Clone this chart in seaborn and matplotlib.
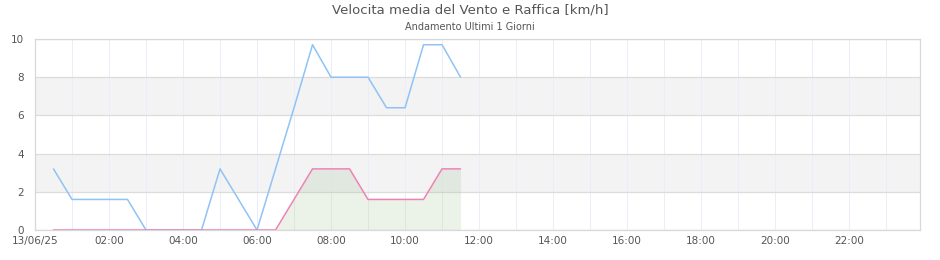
import matplotlib
matplotlib.use("Agg")
import matplotlib.pyplot as plt
import matplotlib.dates as mdates
import matplotlib.ticker as mticker
import seaborn as sns
import pandas as pd

title = "Velocita media del Vento e Raffica [km/h]"
subtitle = "Andamento Ultimi 1 Giorni"
date = "2025-06-13"
times = ["00:30", "01:00", "01:30", "02:00", "02:30", "03:00", "03:30", "04:00",
         "04:30", "05:00", "05:30", "06:00", "06:30", "07:00", "07:30", "08:00",
         "08:30", "09:00", "09:30", "10:00", "10:30", "11:00", "11:30"]
raffica = [3.2, 1.6, 1.6, 1.6, 1.6, 0, 0, 0, 0, 3.2, 1.6, 0, 3.2, 6.4, 9.7,
           8.0, 8.0, 8.0, 6.4, 6.4, 9.7, 9.7, 8.0]
media = [0, 0, 0, 0, 0, 0, 0, 0, 0, 0, 0, 0, 0, 1.6, 3.2, 3.2, 3.2, 1.6, 1.6,
         1.6, 1.6, 3.2, 3.2]
y_ticks = [0, 2, 4, 6, 8, 10]

sns.set_theme(style="white")
plt.rcParams['font.family'] = ['DejaVu Sans']

df = pd.DataFrame({
    "time": pd.to_datetime([f"{date} {t}" for t in times]),
    "raffica": raffica,
    "media": media,
})

fig = plt.figure(figsize=(9.4, 2.6), dpi=100)
ax = fig.add_axes([35 / 940, 30 / 260, 885 / 940, 191 / 260])

start = pd.Timestamp(f"{date} 00:00")
end = start + pd.Timedelta(hours=24)

# alternating bands
for lo in (2, 6):
    ax.axhspan(lo, lo + 2, color="#f3f3f3", zorder=0, lw=0)

ax.fill_between(df["time"], df["media"], 0, color="#9cc090", alpha=0.2, lw=0, zorder=1)
sns.lineplot(data=df, x="time", y="raffica", ax=ax, color="#90c3f5", lw=1.1, zorder=3)
sns.lineplot(data=df, x="time", y="media", ax=ax, color="#ee82b6", lw=1.1, zorder=4)

ax.set_xlim(start, end - pd.Timedelta(minutes=5))
ax.set_ylim(0, 10)
ax.set_yticks(y_ticks)
ax.set_xlabel("")
ax.set_ylabel("")

ax.xaxis.set_major_locator(mdates.HourLocator(byhour=range(0, 24, 2)))
ax.xaxis.set_minor_locator(mdates.HourLocator())

def fmt(x, pos):
    d = mdates.num2date(x)
    if d.hour == 0:
        return d.strftime("%d/%m/%y")
    return d.strftime("%H:%M")

ax.xaxis.set_major_formatter(mticker.FuncFormatter(fmt))

ax.grid(axis="x", which="both", color="#ededfa", lw=0.7, zorder=0.5)
ax.grid(axis="y", which="major", color="#dcdcdc", lw=0.9, zorder=0.5)
ax.set_axisbelow(True)

ax.tick_params(axis="both", which="both", length=0, labelsize=7.5, colors="#555555", pad=4)
ax.tick_params(axis="y", pad=8)
for s in ax.spines.values():
    s.set_color("#d8d8d8")
    s.set_linewidth(0.9)

fig.text(470 / 940, 1 - 10 / 260, title, ha="center", va="center", fontsize=9.5, color="#555555")
fig.text(470 / 940, 1 - 27 / 260, subtitle, ha="center", va="center", fontsize=7, color="#555555")

fig.savefig("out.png", dpi=100)
